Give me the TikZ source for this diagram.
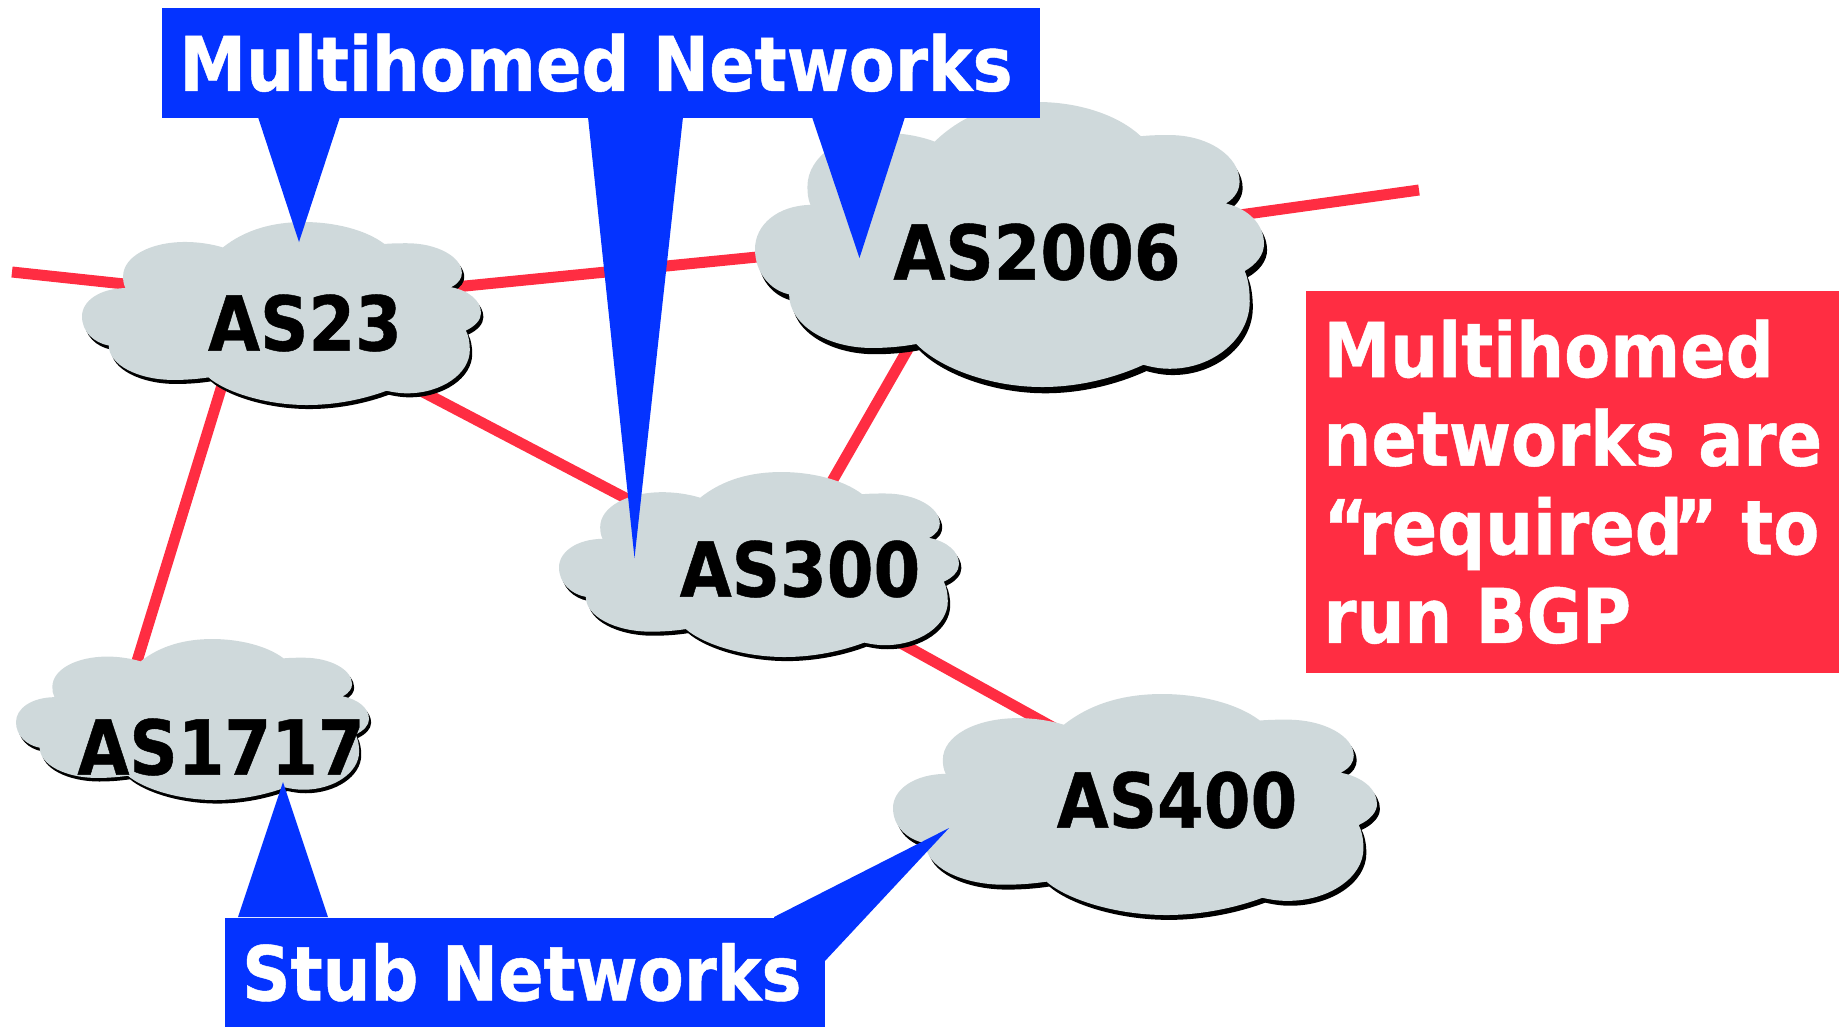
\documentclass[tikz,border=0pt]{standalone}
\usepackage{fontspec}
\setmainfont{DejaVu Sans}[FakeStretch=0.888,BoldFeatures={FakeBold=0.6}]
\usetikzlibrary{backgrounds}
\definecolor{cloudgrey}{RGB}{207,217,219}
\definecolor{spikeblue}{RGB}{4,51,255}
\definecolor{linkred}{RGB}{255,45,66}
\tikzset{
  boldtext/.style = {font=\fontsize{21.5}{25.2}\selectfont\bfseries},
  asbox/.style = {rectangle, inner sep=0pt},
  aslabel/.style = {boldtext, inner sep=0pt, text=black},
  link/.style = {draw=linkred, line width=0.11cm},
  bluebox/.style = {boldtext, rectangle, fill=spikeblue, text=white, inner sep=0pt, anchor=north west},
  redbox/.style = {boldtext, rectangle, fill=linkred, text=white, align=left, inner sep=0pt, anchor=north west},
  spike/.style = {fill=spikeblue}
}
\newcommand{\cloudpath}{(35.3,13.9) .. controls (41,4) and (48,0) .. (55.6,0)
	.. controls (63,0) and (71,4) .. (75.8,12)
	.. controls (78,11.6) and (79.5,11.6) .. (81.5,11.6)
	.. controls (89,11.6) and (95.2,19) .. (95.2,27.9)
	.. controls (95.2,30.5) and (94.5,33.5) .. (92.5,35.6)
	.. controls (97,37.5) and (100,43) .. (100,49.8)
	.. controls (100,53.5) and (98.5,57) .. (96.2,59.3)
	.. controls (96.9,62) and (97.2,66) .. (97.2,69.9)
	.. controls (97.2,83) and (90,93.6) .. (81.5,93.6)
	.. controls (79.5,93.6) and (78,93) .. (76.3,92.2)
	.. controls (71,96.5) and (64,100) .. (56.4,100)
	.. controls (46,100) and (36,93) .. (31.7,84.9)
	.. controls (29,85.8) and (26,86.3) .. (23,86.3)
	.. controls (14,86.3) and (6.7,78) .. (6.7,67.5)
	.. controls (3,66) and (0,60) .. (0,51.6)
	.. controls (0,43) and (4.5,36.3) .. (10.9,36.1)
	.. controls (10.4,34) and (10.3,32) .. (10.3,29.7)
	.. controls (10.3,19) and (17,10.9) .. (25.9,10.9)
	.. controls (29,10.9) and (32.5,12) .. (35.3,13.9) -- cycle}
\newcommand{\ascloud}[5]{
	\begin{scope}[shift={(#2,#3)},xscale=#4/100,yscale=#5/100]
		\fill[black,shift={(0.6,2.2)}] \cloudpath;
		\fill[cloudgrey] \cloudpath;
	\end{scope}
	\node [asbox, minimum width=#4*0.006cm, minimum height=#5*0.005cm] (#1) at (#2+#4/2,#3+#5/2) {};
}

\begin{document}
\begin{tikzpicture}[x=0.01cm,y=-0.01cm]
	\useasboundingbox (0,0) rectangle (1839,1026);
	\ascloud{as23}{82}{222}{399}{183}
	\ascloud{as2006}{755}{102}{509}{285}
	\ascloud{as300}{559}{472}{400}{185}
	\ascloud{as1717}{16}{639}{353}{161}
	\ascloud{as400}{893}{694}{484}{221}
	\coordinate (westend) at (12,272);
	\coordinate (eastend) at (1419,190);
	\begin{scope}[on background layer]
		\draw[link] (westend) -- (as23.168);
		\draw[link] (as23.10) -- (as2006.181);
		\draw[link] (as2006.7) -- (eastend);
		\draw[link] (as23.330) -- (as300.154);
		\draw[link] (as23.222) -- (as1717.146);
		\draw[link] (as2006.221) -- (as300.42);
		\draw[link] (as300.331) -- (as400.128);
	\end{scope}
	\node [aslabel] (as23lab) at (305,323) {AS23};
	\node [aslabel] (as2006lab) at (1037,252) {AS2006};
	\node [aslabel] (as300lab) at (800,569) {AS300};
	\node [aslabel] (as1717lab) at (221,747) {AS1717};
	\node [aslabel] (as400lab) at (1177,800) {AS400};
	\fill[spike] (258,117) -- (299,242) -- (340,117) -- cycle;
	\fill[spike] (588,117) -- (634.5,558) -- (683,117) -- cycle;
	\fill[spike] (812,117) -- (859.5,258) -- (905,117) -- cycle;
	\fill[spike] (238,917) -- (283,782) -- (328,917) -- cycle;
	\fill[spike] (774,917) -- (949,828) -- (824,962) -- (774,962) -- cycle;
	\node [bluebox, minimum width=8.78cm, minimum height=1.1cm] (multi) at (161,7) {Multihomed Networks\kern0.1cm};
	\node [bluebox, minimum width=6cm, minimum height=1.09cm] (stub) at (224,917) {Stub Networks\kern0.06cm};
	\node [redbox, minimum width=5.34cm, minimum height=3.82cm] (note) at (1305,290) {Multihomed\\networks are\\“\kern-.12em required\kern-.12em” to\\run BGP};
\end{tikzpicture}
\end{document}
